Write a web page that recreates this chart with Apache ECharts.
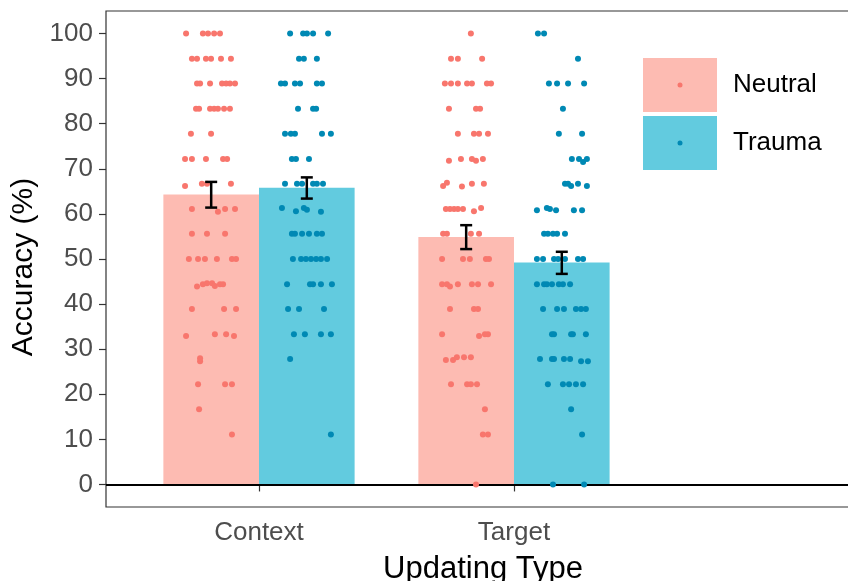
<!DOCTYPE html>
<html><head><meta charset="utf-8">
<script src="https://cdn.jsdelivr.net/npm/echarts@6/dist/echarts.min.js"></script>
<style>html,body{margin:0;padding:0;background:#fff}#c{width:848px;height:581px}</style>
</head><body><div id="c"></div>
<script>
// ---- data ----
const categories = ['Context', 'Target'];
const categoryPos = [1, 2];
const groups = ['Neutral', 'Trauma'];
const neutralMeans = [64.3, 54.9];
const traumaMeans = [65.8, 49.2];
const neutralLower = [61.4, 52.2];
const neutralUpper = [67.1, 57.5];
const traumaLower = [63.4, 46.7];
const traumaUpper = [68.1, 51.6];
const yTicks = [0, 10, 20, 30, 40, 50, 60, 70, 80, 90, 100];

// jittered individual points: [x position on category scale, accuracy %]
const ctxNeutralPts = [
 [0.714,100],[0.780,100],[0.800,100],[0.824,100],[0.847,100],
 [0.737,94.4],[0.757,94.4],[0.792,94.4],[0.812,94.4],[0.851,94.4],[0.890,94.4],
 [0.757,88.9],[0.769,88.9],[0.808,88.9],[0.855,88.9],[0.871,88.9],[0.886,88.9],[0.906,88.9],
 [0.753,83.3],[0.765,83.3],[0.808,83.3],[0.824,83.3],[0.839,83.3],[0.863,83.3],[0.886,83.3],
 [0.733,77.8],[0.812,77.8],
 [0.710,72.2],[0.737,72.2],[0.792,72.2],[0.859,72.2],[0.875,72.2],
 [0.710,66.2],[0.776,66.7],[0.796,66.7],[0.890,66.7],
 [0.737,61.1],[0.839,60.5],[0.867,61.1],[0.906,61.1],
 [0.737,55.6],[0.796,55.6],[0.867,55.6],
 [0.725,50],[0.761,50],[0.788,50],[0.835,50],[0.894,50],[0.910,50],
 [0.757,43.9],[0.780,44.4],[0.796,44.6],[0.816,44.6],[0.827,44.0],[0.847,44.4],[0.859,44.4],
 [0.737,38.9],[0.863,38.9],[0.910,38.9],
 [0.714,32.9],[0.827,33.3],[0.871,33.3],[0.902,32.9],
 [0.769,27.3],[0.769,28.0],
 [0.761,22.2],[0.867,22.2],[0.894,22.2],
 [0.765,16.7],
 [0.894,11.1]
];
const ctxTraumaPts = [
 [1.122,100],[1.173,100],[1.188,100],[1.212,100],[1.271,100],
 [1.157,94.4],[1.176,94.4],[1.227,94.4],
 [1.086,88.9],[1.102,88.9],[1.141,88.9],[1.161,88.9],[1.227,88.9],[1.247,88.9],
 [1.153,83.3],[1.212,83.3],[1.224,83.3],
 [1.102,77.8],[1.125,77.8],[1.141,77.8],[1.247,77.8],[1.282,77.8],
 [1.129,72.2],[1.145,72.2],[1.196,72.2],
 [1.102,66.7],[1.149,66.7],[1.169,66.7],[1.212,66.7],[1.227,66.7],[1.251,66.7],
 [1.090,61.3],[1.145,60.6],[1.176,61.3],[1.188,60.9],[1.243,60.5],
 [1.129,55.6],[1.141,55.6],[1.169,55.6],[1.196,55.6],[1.227,55.6],[1.247,55.6],
 [1.133,50],[1.165,50],[1.184,50],[1.204,50],[1.224,50],[1.243,50],[1.267,50],
 [1.110,44.4],[1.200,44.4],[1.212,44.4],[1.243,44.4],[1.286,44.4],
 [1.114,38.9],[1.157,38.9],[1.255,38.9],
 [1.137,33.3],[1.180,33.3],[1.243,33.3],[1.282,33.3],
 [1.122,27.8],
 [1.282,11.1]
];
const tgtNeutralPts = [
 [1.831,100],
 [1.753,94.4],[1.780,94.4],[1.875,94.4],
 [1.729,88.9],[1.753,88.9],[1.780,88.9],[1.816,88.9],[1.835,88.9],[1.894,88.9],[1.910,88.9],
 [1.745,83.3],[1.851,83.3],[1.867,83.3],
 [1.780,77.8],[1.843,77.8],[1.863,77.8],[1.898,77.8],
 [1.745,71.8],[1.792,72.2],[1.835,72.2],[1.851,71.8],[1.878,72.2],
 [1.722,66.2],[1.737,66.9],[1.796,66.1],[1.835,66.7],[1.882,66.7],
 [1.733,61.1],[1.749,61.1],[1.765,61.1],[1.780,61.1],[1.800,61.1],[1.843,60.6],[1.871,61.3],
 [1.722,55.6],[1.737,55.6],[1.831,55.6],[1.863,55.6],
 [1.718,50],[1.800,50],[1.827,50],[1.890,50],[1.902,50],
 [1.718,44.4],[1.737,44.4],[1.749,43.9],[1.780,44.4],[1.835,44.4],[1.859,44.4],[1.910,44.4],
 [1.749,38.9],[1.843,38.9],[1.859,38.9],
 [1.718,33.3],[1.863,32.9],[1.886,33.3],[1.898,33.3],
 [1.733,27.6],[1.761,27.6],[1.776,28.2],[1.804,28.2],[1.831,28.2],
 [1.753,22.2],[1.816,22.2],[1.831,22.2],[1.855,22.2],
 [1.886,16.7],
 [1.878,11.1],[1.898,11.1],
 [1.851,0]
];
const tgtTraumaPts = [
 [2.094,100],[2.118,100],
 [2.251,94.4],
 [2.137,88.9],[2.169,88.9],[2.212,88.9],[2.275,88.9],
 [2.192,83.3],
 [2.176,77.8],[2.267,77.8],
 [2.227,72.2],[2.255,72.2],[2.271,71.5],[2.286,72.2],
 [2.200,66.7],[2.212,66.7],[2.224,66.2],[2.251,66.7],[2.286,66.2],
 [2.090,60.8],[2.129,61.3],[2.141,61.1],[2.165,60.8],[2.235,60.8],[2.267,60.8],
 [2.118,55.6],[2.133,55.6],[2.153,55.6],[2.169,55.6],[2.200,55.6],
 [2.090,50],[2.114,50],[2.157,50],[2.173,50],[2.200,50],[2.251,50],[2.271,50],
 [2.090,44.4],[2.118,44.4],[2.129,44.4],[2.149,44.4],[2.176,44.4],[2.192,44.4],[2.220,44.4],
 [2.114,38.9],[2.169,38.9],[2.196,38.9],[2.243,38.9],[2.263,38.9],[2.282,38.9],
 [2.149,33.3],[2.157,33.3],[2.224,33.3],[2.231,33.3],[2.282,33.3],
 [2.102,27.8],[2.149,27.8],[2.157,27.8],[2.196,27.8],[2.220,27.8],[2.263,27.3],[2.290,27.3],
 [2.133,22.2],[2.192,22.2],[2.216,22.2],[2.243,22.2],[2.271,22.2],
 [2.224,16.7],
 [2.267,11.1],
 [2.153,0],[2.275,0]
];

// ---- style ----
const FONT = 'Liberation Sans, Arial, Helvetica, sans-serif';
const DODGE = 0.1875, BARW = 0.375;
const colors = {
  Neutral: { bar: '#FDBBB2', pt: '#F8766D' },
  Trauma: { bar: '#62CBDF', pt: '#0089B4' }
};

function barSeries(name, means, sign) {
  return {
    name, type: 'custom', z: 1,
    data: categoryPos.map((p, i) => [p + sign * DODGE, means[i]]),
    encode: { x: 0, y: 1 },
    renderItem: (params, api) => {
      const x = api.value(0), v = api.value(1);
      const a = api.coord([x - BARW / 2, v]);
      const b = api.coord([x + BARW / 2, 0]);
      return { type: 'rect', shape: { x: a[0], y: a[1], width: b[0] - a[0], height: b[1] - a[1] },
               style: { fill: colors[name].bar } };
    }
  };
}
function errSeries(name, lo, hi, sign) {
  return {
    name: name + ' SE', type: 'custom', z: 4,
    data: categoryPos.map((p, i) => [p + sign * DODGE, lo[i], hi[i]]),
    encode: { x: 0, y: [1, 2] },
    renderItem: (params, api) => {
      const x = api.value(0);
      const t = api.coord([x, api.value(2)]);
      const b = api.coord([x, api.value(1)]);
      const w = 6;
      const st = { stroke: '#000', lineWidth: 2.5 };
      return { type: 'group', children: [
        { type: 'line', shape: { x1: t[0], y1: t[1], x2: b[0], y2: b[1] }, style: st },
        { type: 'line', shape: { x1: t[0] - w, y1: t[1], x2: t[0] + w, y2: t[1] }, style: st },
        { type: 'line', shape: { x1: b[0] - w, y1: b[1], x2: b[0] + w, y2: b[1] }, style: st }
      ]};
    }
  };
}
function ptSeries(name, pts) {
  return { name, type: 'scatter', z: 3, data: pts, symbolSize: 6,
           itemStyle: { color: colors[name].pt, opacity: 1 }, emphasis: { disabled: true } };
}

const legendBase = {
  orient: 'vertical', left: 643, top: 58, padding: 0, itemGap: 4,
  itemWidth: 74, itemHeight: 54, selectedMode: false
};
const dotIcon = 'path://M0,0L0,0M74,54L74,54M34.5,27a2.5,2.5 0 1,0 5,0a2.5,2.5 0 1,0 -5,0Z';

const option = {
  animation: false,
  textStyle: { fontFamily: FONT },
  grid: { left: 106, top: 11, width: 754, height: 496, outerBoundsMode: 'none',
          show: true, borderColor: '#333', borderWidth: 1.2 },
  legend: [
    Object.assign({}, legendBase, {
      z: 4,
      data: groups.map(g => ({ name: g, icon: 'rect', itemStyle: { color: colors[g].bar, borderWidth: 0 } })),
      textStyle: { fontSize: 26, color: '#000', fontFamily: FONT, padding: [0, 0, 0, 11] }
    }),
    Object.assign({}, legendBase, {
      z: 5,
      data: groups.map(g => ({ name: g, icon: dotIcon, itemStyle: { color: colors[g].pt, borderWidth: 0 } })),
      textStyle: { fontSize: 26, color: 'rgba(0,0,0,0)', fontFamily: FONT, padding: [0, 0, 0, 11] }
    })
  ],
  xAxis: {
    type: 'value', min: 0.4, max: 3.357,
    name: 'Updating Type', nameLocation: 'middle', nameGap: 47,
    nameTextStyle: { fontSize: 31, color: '#000', fontFamily: FONT },
    splitLine: { show: false },
    axisLine: { show: false },
    axisTick: { show: true, length: 7, customValues: categoryPos, lineStyle: { color: '#333', width: 1.2 } },
    axisLabel: { customValues: categoryPos, fontSize: 26, color: '#4D4D4D', margin: 13, fontFamily: FONT,
                 formatter: v => categories[categoryPos.indexOf(v)] || '' }
  },
  yAxis: {
    type: 'value', min: -5, max: 105,
    name: 'Accuracy (%)', nameLocation: 'middle', nameGap: 62,
    nameTextStyle: { fontSize: 30, color: '#000', fontFamily: FONT, padding: [0, 16, 0, 0] },
    splitLine: { show: false },
    axisLine: { show: false },
    axisTick: { show: true, length: 7, customValues: yTicks, lineStyle: { color: '#333', width: 1.2 } },
    axisLabel: { customValues: yTicks, fontSize: 26, color: '#4D4D4D', margin: 13, fontFamily: FONT }
  },
  series: [
    Object.assign(barSeries('Neutral', neutralMeans, -1), {
      markLine: { z: 2, silent: true, symbol: 'none', label: { show: false },
                  lineStyle: { color: '#000', width: 2, type: 'solid' }, data: [{ yAxis: 0 }] }
    }),
    barSeries('Trauma', traumaMeans, 1),
    ptSeries('Neutral', ctxNeutralPts),
    ptSeries('Neutral', tgtNeutralPts),
    ptSeries('Trauma', ctxTraumaPts),
    ptSeries('Trauma', tgtTraumaPts),
    errSeries('Neutral', neutralLower, neutralUpper, -1),
    errSeries('Trauma', traumaLower, traumaUpper, 1)
  ]
};
const chart = echarts.init(document.getElementById('c'), null, { renderer: 'canvas' });
chart.setOption(option);
</script></body></html>
